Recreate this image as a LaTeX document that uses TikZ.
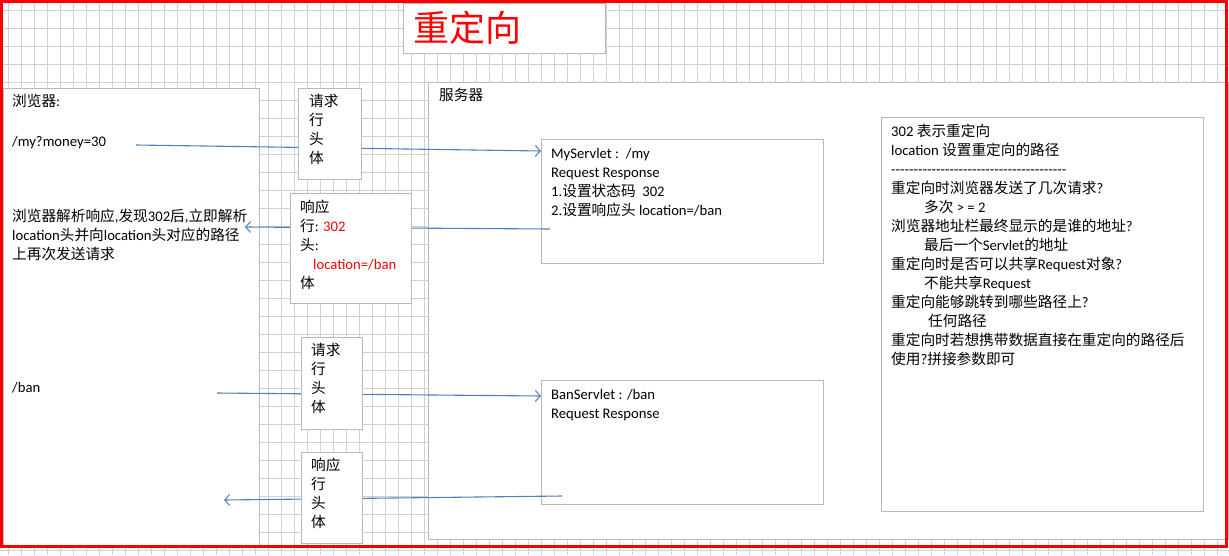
\documentclass[tikz,border=0pt]{standalone}
\usepackage{fontspec}
\setmainfont{Carlito}
\newfontfamily\cjk{Noto Sans CJK SC}
\usetikzlibrary{arrows.meta}
\XeTeXinterchartokenstate=1
\newXeTeXintercharclass\zhcls
\count255="2E80
\loop\ifnum\count255<"A000 \XeTeXcharclass\count255=\zhcls \advance\count255 by 1 \repeat
\count255="FF00
\loop\ifnum\count255<"FFF0 \XeTeXcharclass\count255=\zhcls \advance\count255 by 1 \repeat
\XeTeXinterchartoks 0 \zhcls={\begingroup\cjk}
\XeTeXinterchartoks 4095 \zhcls={\begingroup\cjk}
\XeTeXinterchartoks \zhcls 0={\endgroup}
\XeTeXinterchartoks \zhcls 4095={\endgroup}
\definecolor{arrowblue}{RGB}{79,129,189}
\definecolor{gridgray}{RGB}{208,208,208}
\definecolor{boxgray}{RGB}{185,185,185}
\tikzset{
  gridline/.style={draw=gridgray, line width=1pt},
  box/.style={draw=boxgray, fill=white, line width=1pt, inner sep=0pt, anchor=north west},
  txt/.style={anchor=base west, inner sep=0pt, font=\fontsize{14.67}{19}\selectfont},
  arr/.style={draw=arrowblue, line width=1.1pt, -{Straight Barb[length=5pt,width=11pt,line width=1pt]}},
  frame/.style={draw=red, line width=3pt},
}
\begin{document}
\begin{tikzpicture}[x=1pt,y=-1pt]
\useasboundingbox (0,0) rectangle (1229,555);
% grid
\foreach \x in {8,21,...,1229} \draw[gridline] (\x,0) -- (\x,555);
\foreach \y in {10,28,...,555} \draw[gridline] (0,\y) -- (1229,\y);
% big boxes
\node[box, minimum width=800pt, minimum height=457pt] (srv) at (428,82) {};
\node[box, minimum width=256pt, minimum height=458pt] (brow) at (3,88) {};
\node[box, minimum width=202pt, minimum height=50pt] (tbox) at (403,3) {};
\node[box, minimum width=282pt, minimum height=124pt] (ms) at (541,139) {};
\node[box, minimum width=282pt, minimum height=124pt] (bs) at (541,380) {};
\node[box, minimum width=322pt, minimum height=394pt] (notes) at (881,117) {};
% title
\node[inner sep=0pt, text=red, font=\fontsize{36}{36}\selectfont] (title) at (467,28) {重定向};
% browser texts
\node[txt] (b1) at (12,106) {浏览器:};
\node[txt] (b2) at (12,146) {/my?money=30};
\node[txt] (b3) at (12,221) {浏览器解析响应,发现302后,立即解析};
\node[txt] (b4) at (12,240) {location头并向location头对应的路径};
\node[txt] (b5) at (12,259) {上再次发送请求};
\node[txt] (b6) at (12,392) {/ban};
% server label
\node[txt] (s1) at (439,100) {服务器};
% MyServlet
\node[txt] (m1) at (551,158) {MyServlet : \,/my};
\node[txt] (m2) at (551,177) {Request Response};
\node[txt] (m3) at (551,196) {1.设置状态码 \ 302};
\node[txt] (m4) at (551,215) {2.设置响应头 location=/ban};
% BanServlet
\node[txt] (n1b) at (551,399) {BanServlet : /ban};
\node[txt] (n2b) at (551,418) {Request Response};
% notes
\node[txt] (n1) at (891,136.5) {302 表示重定向};
\node[txt] (n2) at (891,155.5) {location 设置重定向的路径};
\node[txt] (n3) at (891,174.5) {-{}-{}-{}-{}-{}-{}-{}-{}-{}-{}-{}-{}-{}-{}-{}-{}-{}-{}-{}-{}-{}-{}-{}-{}-{}-{}-{}-{}-{}-{}-{}-{}-{}-{}-{}-{}-{}-{}-{}};
\node[txt] (n4) at (891,193.5) {重定向时浏览器发送了几次请求?};
\node[txt] (n5) at (924,212.5) {多次 > = 2};
\node[txt] (n6) at (891,231.5) {浏览器地址栏最终显示的是谁的地址?};
\node[txt] (n7) at (924,250.5) {最后一个Servlet的地址};
\node[txt] (n8) at (891,269.5) {重定向时是否可以共享Request对象?};
\node[txt] (n9) at (924,288.5) {不能共享Request};
\node[txt] (n10) at (891,307.5) {重定向能够跳转到哪些路径上?};
\node[txt] (n11) at (928,326.5) {任何路径};
\node[txt] (n12) at (891,345.5) {重定向时若想携带数据直接在重定向的路径后};
\node[txt] (n13) at (891,364.5) {使用?拼接参数即可};
% connectors
\coordinate (a1s) at (136,145);
\coordinate (a2s) at (550,229);
\coordinate (a2e) at (245,227);
\coordinate (a3s) at (217,393);
\coordinate (a4s) at (562,496);
\coordinate (a4e) at (224,500);
\draw[arr] (a1s) -- ([yshift=-12pt]ms.north west);
\draw[arr] (a2s) -- (a2e);
\draw[arr] (a3s) -- ([yshift=-16pt]bs.north west);
\draw[arr] (a4s) -- (a4e);
% request / response boxes
\node[box, minimum width=63pt, minimum height=91pt] (req1) at (298,88) {};
\foreach \t [count=\i] in {请求,行,头,体}
  \node[txt] (qa\i) at (309,{106.5+19*(\i-1)}) {\t};
\node[box, minimum width=121pt, minimum height=110pt] (resp1) at (290,193) {};
\node[txt] (ra1) at (300,212) {响应};
\node[txt] (ra2) at (300,231) {行: \textcolor{red}{302}};
\node[txt] (ra3) at (300,250) {头:};
\node[txt, text=red] (ra4) at (313,269) {location=/ban};
\node[txt] (ra5) at (300,288) {体};
\node[box, minimum width=61pt, minimum height=92pt] (req2) at (301,337) {};
\foreach \t [count=\i] in {请求,行,头,体}
  \node[txt] (qb\i) at (311,{355+19*(\i-1)}) {\t};
\node[box, minimum width=61pt, minimum height=91pt] (resp2) at (301,452) {};
\foreach \t [count=\i] in {响应,行,头,体}
  \node[txt] (rb\i) at (311,{470+19*(\i-1)}) {\t};
% red frame
\draw[frame] (1.5,1.5) rectangle (1226,546.5);
\end{tikzpicture}
\end{document}
